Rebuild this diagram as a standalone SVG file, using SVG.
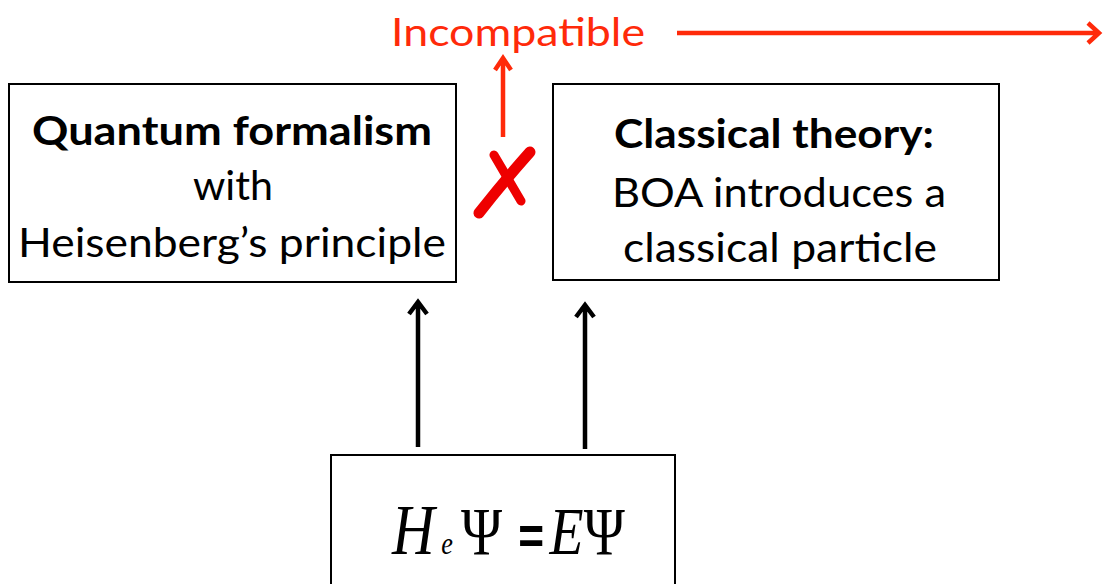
<svg xmlns="http://www.w3.org/2000/svg" width="1103" height="584" viewBox="0 0 1103 584">
<defs>
<style>
.box{fill:#fff;stroke:#000;stroke-width:2}
.t{font-family:Lato,"Open Sans","Liberation Sans",sans-serif;font-size:40px;fill:#000;text-anchor:middle}
.b{font-weight:bold}
.red{fill:none;stroke:#ff2a0a;stroke-width:4.5}
.blk{fill:none;stroke:#000;stroke-width:4.5}
.eq{font-family:"Liberation Serif","Times New Roman",serif;fill:#000}
.it{font-style:italic}
</style>
</defs>
<rect width="1103" height="584" fill="#fff"/>
<g id="quantum">
<rect class="box" x="9" y="84" width="447" height="198"/>
<text class="t b" x="232" y="145" textLength="400" lengthAdjust="spacingAndGlyphs">Quantum formalism</text>
<text class="t" x="233" y="200" textLength="80" lengthAdjust="spacingAndGlyphs">with</text>
<text class="t" x="232" y="257" textLength="428" lengthAdjust="spacingAndGlyphs">Heisenberg’s principle</text>
</g>
<g id="classical">
<rect class="box" x="553" y="84" width="446" height="196"/>
<text class="t b" x="774" y="148" textLength="320" lengthAdjust="spacingAndGlyphs">Classical theory:</text>
<text class="t" x="779" y="207" textLength="334" lengthAdjust="spacingAndGlyphs">BOA introduces a</text>
<text class="t" x="780" y="262" textLength="314" lengthAdjust="spacingAndGlyphs">classical particle</text>
</g>
<g id="equation">
<rect class="box" x="331" y="455" width="344" height="140"/>
<text class="eq" transform="translate(392,554) scale(0.82,1)" font-size="68"><tspan x="0" class="it" font-size="72">H</tspan><tspan x="60" class="it" font-size="32">e</tspan><tspan x="84">Ψ</tspan><tspan x="154" font-family="Liberation Sans,sans-serif" font-weight="bold" font-size="54">=</tspan><tspan x="192" class="it">E</tspan><tspan x="234">Ψ</tspan></text>
</g>
<g id="incompatible">
<text x="391" y="46" font-family="Lato,Open Sans,Liberation Sans,sans-serif" font-size="38" fill="#ff2a0a" textLength="254" lengthAdjust="spacingAndGlyphs">Incompatible</text>
</g>
<g id="cross">
<path d="M479 213 Q505 180 530 152" fill="none" stroke="#ee0000" stroke-width="11" stroke-linecap="round"/>
<path d="M494 155 L521 201" fill="none" stroke="#ee0000" stroke-width="9" stroke-linecap="round"/>
</g>
<g id="connectors">
<path class="red" d="M677 33 H1098 M1088 23 L1099 33 L1088 43"/>
<path class="red" d="M503 137 V58 M495 70 L503 58 L511 70"/>
<path class="blk" d="M418 447 V302 M409 314 L418 302 L427 314"/>
<path class="blk" d="M585 449 V305 M576 317 L585 305 L594 317"/>
</g>
</svg>
